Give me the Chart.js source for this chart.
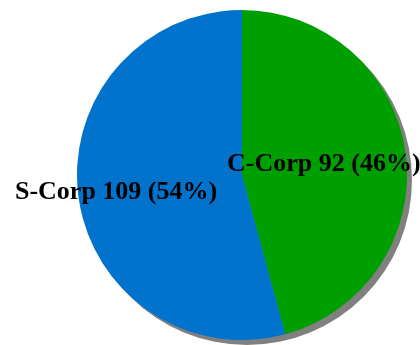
<!DOCTYPE html>
<html>
<head>
<meta charset="utf-8">
<script src="https://cdn.jsdelivr.net/npm/chart.js@4"></script>
<style>
  html, body { margin: 0; padding: 0; background: #ffffff; }
  #wrap { width: 420px; height: 345px; position: relative; }
</style>
</head>
<body>
<div id="wrap"><canvas id="corpPie"></canvas></div>
<script>
// company types and counts
const corpTypes = ['C-Corp', 'S-Corp'];
const corpCounts = [92, 109];
const corpColors = ['#009F00', '#0173CC'];

// gray drop shadow behind the pie
const pieShadow = {
    id: 'pieShadow',
    beforeDatasetsDraw(chart) {
        const arc = chart.getDatasetMeta(0).data[0];
        if (!arc) return;
        const ctx = chart.ctx;
        ctx.save();
        ctx.fillStyle = '#808080';
        ctx.beginPath();
        ctx.arc(arc.x + 5, arc.y + 5, arc.outerRadius, 0, Math.PI * 2);
        ctx.fill();
        ctx.restore();
    }
};

// "name value (pct%)" text on each slice
const sliceLabels = {
    id: 'sliceLabels',
    afterDatasetsDraw(chart, args, opts) {
        const ctx = chart.ctx;
        const total = corpCounts.reduce((a, b) => a + b, 0);
        ctx.save();
        ctx.font = 'bold 26px "Liberation Serif", "Times New Roman", serif';
        ctx.fillStyle = '#000000';
        ctx.textAlign = 'center';
        ctx.textBaseline = 'middle';
        chart.getDatasetMeta(0).data.forEach((arc, i) => {
            const mid = (arc.startAngle + arc.endAngle) / 2;
            const r = arc.outerRadius * opts.radius[i];
            const pct = Math.round(corpCounts[i] / total * 100);
            const text = corpTypes[i] + ' ' + corpCounts[i] + ' (' + pct + '%)';
            ctx.fillText(text, arc.x + Math.cos(mid) * r, arc.y + Math.sin(mid) * r);
        });
        ctx.restore();
    }
};

const ctx_pie = document.getElementById('corpPie');
if (ctx_pie) {
    new Chart(ctx_pie, {
        type: 'pie',
        data: {
            labels: corpTypes,
            datasets: [
                {
                    data: corpCounts,
                    backgroundColor: corpColors,
                    borderWidth: 0
                },
            ]
        },
        options: {
            responsive: true,
            maintainAspectRatio: false,
            animation: false,
            layout: { padding: { left: 77, right: 13, top: 10, bottom: 5 } },
            plugins: {
                legend: { display: false },
                tooltip: { enabled: false },
                sliceLabels: { radius: [0.5, 0.77] }
            }
        },
        plugins: [pieShadow, sliceLabels]
    });
}
</script>
</body>
</html>
